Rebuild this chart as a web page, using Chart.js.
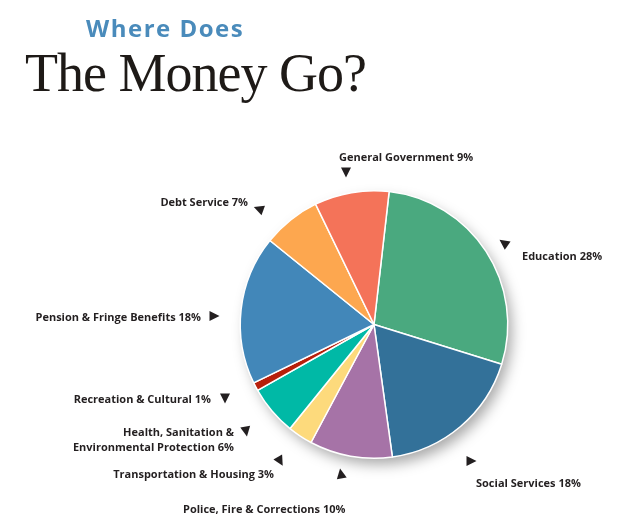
<!DOCTYPE html>
<html>
<head>
<meta charset="utf-8">
<script src="https://cdn.jsdelivr.net/npm/chart.js@4.4.0/dist/chart.umd.min.js"></script>
<style>
  html, body { margin: 0; padding: 0; background: #fff; }
  #wrap { position: relative; width: 627px; height: 531px; overflow: hidden; }
  #c { position: absolute; left: 0; top: 0; }
  .t1 { position: absolute; left: 86px; top: 16px; font-family: "Open Sans", sans-serif; font-weight: 700; font-size: 24px; line-height: 24px; color: #4a8bbb; letter-spacing: 1.5px; white-space: nowrap; }
  .t2 { position: absolute; left: 25px; top: 46px; font-family: "Liberation Serif", serif; font-size: 54px; line-height: 54px; color: #1e1a17; white-space: nowrap; letter-spacing: -1px; }
  .lab { position: absolute; font-family: "Open Sans", sans-serif; font-weight: 700; font-size: 11px; line-height: 13px; color: #231f20; white-space: pre; transform: translateY(-50%); }
</style>
</head>
<body>
<div id="wrap">
  <canvas id="c" width="627" height="531"></canvas>
  <div class="t1">Where Does</div>
  <div class="t2">The Money Go?</div>
</div>
<script>
// ---- data ----
const categories = [
  "Education",
  "Social Services",
  "Police, Fire & Corrections",
  "Transportation & Housing",
  "Health, Sanitation &\nEnvironmental Protection",
  "Recreation & Cultural",
  "Pension & Fringe Benefits",
  "Debt Service",
  "General Government"
];
const values = [28, 18, 10, 3, 6, 1, 18, 7, 9];
const colors = ["#4aa97f", "#337199", "#a673a7", "#fdda7c", "#00b9a6", "#b71f0b", "#4287b9", "#fda74f", "#f47359"];

// ---- label layout (positions only) ----
const labelLayout = [
  { anchor: "left",  x: 522, y: 255 },  // Education
  { anchor: "left",  x: 476, y: 482 },  // Social Services
  { anchor: "left",  x: 183, y: 508 },  // Police
  { anchor: "right", x: 274, y: 473 },  // Transportation
  { anchor: "right", x: 234, y: 439, lh: 15 }, // Health
  { anchor: "right", x: 211, y: 398 },  // Recreation
  { anchor: "right", x: 201, y: 316 },  // Pension
  { anchor: "right", x: 248, y: 201 },  // Debt
  { anchor: "left",  x: 339, y: 156 }   // General Government
];
// arrowheads: centre and pointing direction (degrees, 0 = right, 90 = down)
const arrowLayout = [
  { x: 504, y: 243, a: 215 },
  { x: 471, y: 461, a: 0 },
  { x: 341, y: 474, a: 260 },
  { x: 280, y: 461, a: 60 },
  { x: 246, y: 431, a: 80 },
  { x: 225, y: 398, a: 90 },
  { x: 214, y: 316, a: 0 },
  { x: 259, y: 209, a: 200 },
  { x: 346, y: 172, a: 90 }
];

const wrap = document.getElementById("wrap");
categories.forEach((name, i) => {
  const L = labelLayout[i];
  const d = document.createElement("div");
  d.className = "lab";
  d.textContent = name + " " + values[i] + "%";
  if (L.lh) d.style.lineHeight = L.lh + "px";
  if (L.anchor === "left") { d.style.left = L.x + "px"; d.style.textAlign = "left"; }
  else { d.style.right = (627 - L.x) + "px"; d.style.textAlign = "right"; }
  d.style.top = L.y + "px";
  wrap.appendChild(d);
});

const shadowPlugin = {
  id: "pieShadow",
  beforeDatasetsDraw(chart) {
    const arc = chart.getDatasetMeta(0).data[0];
    if (!arc) return;
    const ctx = chart.ctx;
    ctx.save();
    ctx.shadowColor = "rgba(0,0,0,0.35)";
    ctx.shadowBlur = 14;
    ctx.shadowOffsetX = 5;
    ctx.shadowOffsetY = 7;
    ctx.fillStyle = "#fff";
    ctx.beginPath();
    ctx.arc(arc.x, arc.y, arc.outerRadius - 1, 0, Math.PI * 2);
    ctx.fill();
    ctx.restore();
  }
};

const arrowPlugin = {
  id: "arrows",
  afterDraw(chart) {
    const ctx = chart.ctx;
    ctx.save();
    ctx.fillStyle = "#231f20";
    arrowLayout.forEach(A => {
      ctx.save();
      ctx.translate(A.x, A.y);
      ctx.rotate(A.a * Math.PI / 180);
      ctx.beginPath();
      ctx.moveTo(5.5, 0);
      ctx.lineTo(-4.5, -5);
      ctx.lineTo(-4.5, 5);
      ctx.closePath();
      ctx.fill();
      ctx.restore();
    });
    ctx.restore();
  }
};

new Chart(document.getElementById("c"), {
  type: "pie",
  data: {
    labels: categories,
    datasets: [{
      data: values,
      backgroundColor: colors,
      borderColor: "#ffffff",
      borderWidth: 1.5
    }]
  },
  options: {
    responsive: false,
    animation: false,
    rotation: 6.5,
    layout: { padding: { left: 239, right: 118, top: 190, bottom: 72 } },
    plugins: { legend: { display: false }, tooltip: { enabled: false }, title: { display: false } }
  },
  plugins: [shadowPlugin, arrowPlugin]
});
</script>
</body>
</html>
